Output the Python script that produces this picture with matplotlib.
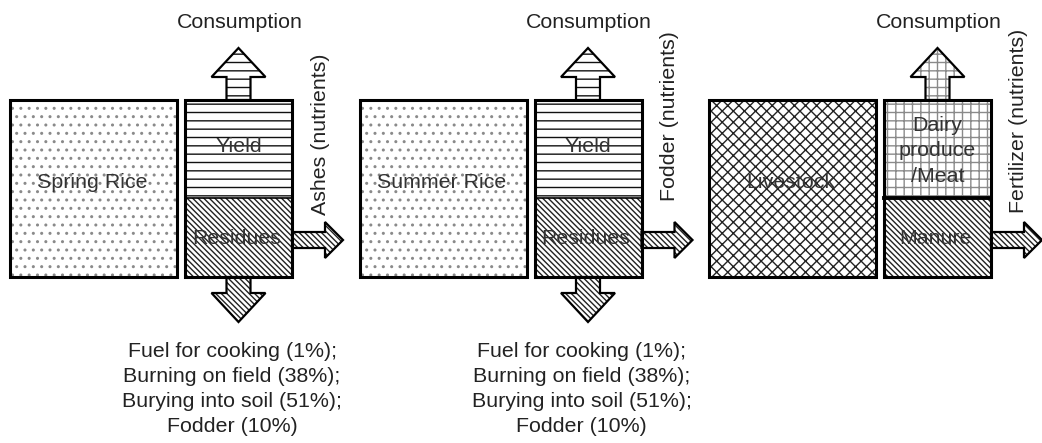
import matplotlib.pyplot as plt
from matplotlib.patches import Rectangle, Polygon

plt.rcParams['font.family'] = ['Liberation Sans', 'DejaVu Sans']
plt.rcParams['hatch.linewidth'] = 1.0

# diagram content
source_names = ['Spring Rice', 'Summer Rice', 'Livestock']
product_labels = ['Yield', 'Yield', 'Dairy\nproduce\n/Meat']
byproduct_labels = ['Residues', 'Residues', 'Manure']
top_labels = ['Consumption', 'Consumption', 'Consumption']
side_labels = ['Ashes (nutrients)', 'Fodder (nutrients)', 'Fertilizer (nutrients)']
residue_uses = ['Fuel for cooking (1%);', 'Burning on field (38%);',
                'Burying into soil (51%);', 'Fodder (10%)']
has_down_arrow = [True, True, False]

# styles
source_hatch = ['..', '..', 'xxx']
source_hcolor = ['#8a8a8a', '#8a8a8a', '#222222']
product_hatch = ['--', '--', '++']
product_hcolor = ['#111111', '#111111', '#8a8a8a']
byproduct_hatch = '\\' * 6
side_bottom = [215, 201, 213]
divider_lw = [1.2, 1.2, 2.8]

W, H = 1042, 443
STEP = 349.5
TXT = 15.4

fig = plt.figure(figsize=(W / 100, H / 100), dpi=100)
ax = fig.add_axes([0, 0, 1, 1])
ax.set_xlim(0, W)
ax.set_ylim(H, 0)
ax.axis('off')


def hatched_rect(x, y, w, h, hatch, hcolor, lw=2.2):
    ax.add_patch(Rectangle((x, y), w, h, facecolor='white', edgecolor=hcolor,
                           hatch=hatch, linewidth=0, zorder=1))
    if lw:
        ax.add_patch(Rectangle((x, y), w, h, fill=False, edgecolor='black',
                               linewidth=lw, zorder=3))


def hatched_poly(pts, hatch, hcolor):
    ax.add_patch(Polygon(pts, closed=True, facecolor='white', edgecolor=hcolor,
                         hatch=hatch, linewidth=0, zorder=2))
    ax.add_patch(Polygon(pts, closed=True, fill=False, edgecolor='black',
                         linewidth=1.6, zorder=4))


for i in range(3):
    x0 = i * STEP
    # source box
    hatched_rect(x0 + 10, 100, 167, 177, source_hatch[i], source_hcolor[i])
    ax.text(x0 + 92, 183, source_names[i], ha='center', va='center',
            fontsize=TXT, color='#333333', zorder=5)

    # product / by-product column
    bx, bw, top, mid, bot = x0 + 185, 107, 100, 198, 277
    cx = bx + bw / 2
    hatched_rect(bx, top, bw, mid - top, product_hatch[i], product_hcolor[i], lw=0)
    hatched_rect(bx, mid, bw, bot - mid, byproduct_hatch, '#222222', lw=0)
    ax.add_patch(Rectangle((bx, top), bw, bot - top, fill=False,
                           edgecolor='black', linewidth=2.2, zorder=3))
    ax.plot([bx, bx + bw], [mid, mid], color='black', lw=divider_lw[i], zorder=3)
    ax.text(cx, 147 if i < 2 else 151, product_labels[i], ha='center', va='center',
            fontsize=TXT, color='#333333', zorder=5, linespacing=1.45)
    ax.text(cx - 2, 238, byproduct_labels[i], ha='center', va='center',
            fontsize=TXT, color='#333333', zorder=5)

    # up arrow -> consumption
    hatched_poly([(cx - 12, top), (cx - 12, 77), (cx - 27, 77), (cx, 48),
                  (cx + 27, 77), (cx + 12, 77), (cx + 12, top)],
                 product_hatch[i], product_hcolor[i])
    ax.text(cx + 1, 22, top_labels[i], ha='center', va='center',
            fontsize=TXT, color='#222222')

    # right arrow -> nutrients
    rx = bx + bw
    hatched_poly([(rx, 232), (rx + 33, 232), (rx + 33, 222), (rx + 51, 240),
                  (rx + 33, 258), (rx + 33, 248), (rx, 248)],
                 byproduct_hatch, '#222222')
    ax.text(x0 + 320, side_bottom[i], side_labels[i], ha='center', va='bottom',
            rotation=90, fontsize=TXT, color='#222222')

    # down arrow -> residue uses
    if has_down_arrow[i]:
        hatched_poly([(cx - 12, bot), (cx - 12, 293), (cx - 27, 293), (cx, 322),
                      (cx + 27, 293), (cx + 12, 293), (cx + 12, bot)],
                     byproduct_hatch, '#222222')
        ax.text(x0 + 232, 389, '\n'.join(residue_uses), ha='center', va='center',
                fontsize=TXT, color='#222222', linespacing=1.42)

fig.savefig('out.png', dpi=100)
